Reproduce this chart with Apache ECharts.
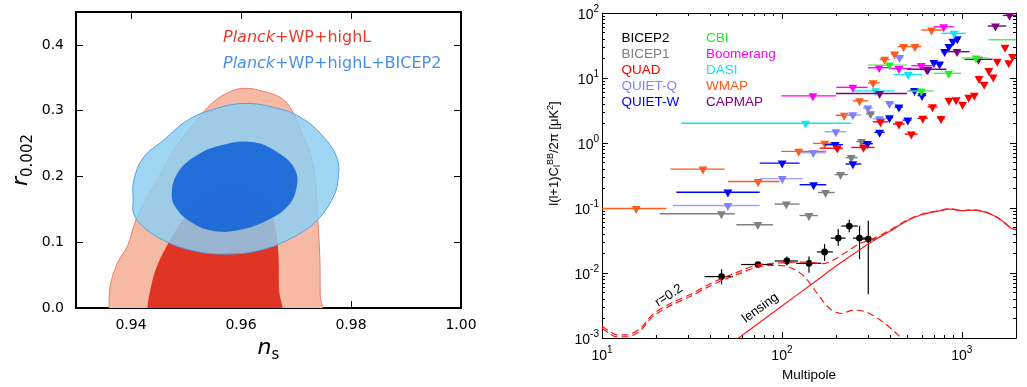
<!DOCTYPE html>
<html><head><meta charset="utf-8">
<script src="https://cdn.jsdelivr.net/npm/echarts@6/dist/echarts.min.js"></script>
<style>html,body{margin:0;padding:0;background:#fff}#c{width:1027px;height:387px}</style>
</head><body><div id="c"></div>
<script>
// ---------- Left panel: contours in (n_s, r_0.002) ----------
const redOuter = [[0.9359,-0.02],[0.9360,0.0],[0.9362,0.032],[0.9375,0.068],[0.9393,0.093],[0.9411,0.138],[0.9441,0.184],[0.9477,0.239],[0.9514,0.280],[0.9550,0.313],[0.9581,0.329],[0.9608,0.334],[0.9641,0.329],[0.9675,0.318],[0.9696,0.295],[0.9711,0.265],[0.9726,0.234],[0.9735,0.194],[0.9739,0.143],[0.9743,0.083],[0.9744,0.02],[0.9744,-0.02]];
const redInner = [[0.9430,-0.02],[0.9430,0.0],[0.9435,0.027],[0.9447,0.063],[0.9471,0.103],[0.9502,0.143],[0.9538,0.174],[0.9575,0.185],[0.9611,0.181],[0.9641,0.164],[0.9659,0.133],[0.9667,0.093],[0.9669,0.03],[0.9669,-0.02]];
const blueOuter = [[0.9404,0.164],[0.9405,0.194],[0.9423,0.229],[0.9459,0.255],[0.9502,0.285],[0.9550,0.302],[0.9605,0.311],[0.9659,0.305],[0.9708,0.290],[0.9750,0.260],[0.9774,0.229],[0.9777,0.199],[0.9768,0.169],[0.9738,0.133],[0.9696,0.108],[0.9635,0.088],[0.9575,0.082],[0.9514,0.087],[0.9459,0.103],[0.9423,0.123],[0.9405,0.143]];
const blueInner = [[0.9474,0.174],[0.9484,0.204],[0.9514,0.229],[0.9562,0.247],[0.9623,0.252],[0.9671,0.234],[0.9699,0.209],[0.9700,0.179],[0.9683,0.153],[0.9647,0.133],[0.9599,0.119],[0.9550,0.117],[0.9508,0.131],[0.9481,0.153]];
const nsTicks = [0.94, 0.96, 0.98, 1.00];
const rTicks = [0.0, 0.1, 0.2, 0.3, 0.4];

// ---------- Right panel: BB bandpowers ----------
// rows: [ell, value, ellLow, ellHigh]  (95% upper limits)
const wmap = [[15.5,0.098,10,22.8],[36.4,0.397,24,48],[73.8,0.255,50.1,97],[124,0.743,99.3,176],[173,0.986,149,201],[222,2.67,199,259],[270,4.45,248,301],[321,8.41,301,349],[372,19.3,349,396],[423,23.4,405,441],[474,30.5,441,512],[549,30.5,512,595],[679,54.7,595,784]];
const bicep1 = [[46.1,0.0815,20.9,54.6],[73.5,0.0553,55.8,89.1],[105.7,0.115,90.9,125.4],[141.3,0.0767,125.4,158.5],[174.8,0.173,158.5,196.3],[211.8,0.327,196,232.6],[243,0.595,226,264],[277,1.05,259,294],[311,2.81,294,327]];
const quad = [[203,0.832,162,218],[284,0.855,243,327],[353,2.12,320,388],[447,1.96,414,481],[524,1.37,481,567],[607,2.40,567,645],[687,3.6,645,732],[766,2.38,732,802],[847,4.53,818,877],[929,4.62,897,962],[1009,3.94,975,1045],[1092,5.04,1055,1131],[1173,5.41,1133,1215],[1246,9.79,1204,1290],[1331,7.98,1286,1378],[1413,13.0,1365,1463],[1494,10.3,1443,1547],[1574,18.0,1520,1630],[1739,29.7,1680,1800],[1822,17.1,1760,1887],[1913,21.4,1848,1980]];
const quietQ = [[50.1,0.109,24.8,75.2],[100.5,0.283,75.2,130.8],[149.4,0.71,128.2,176.4],[199.5,1.49,172.7,227.8],[248,2.70,222.8,276],[300.6,3.44,282,320],[349,2.36,320,380],[396,4.04,380,423],[451,20.6,423,474]];
const quietW = [[50.1,0.175,25.9,75.2],[100.3,0.49,75.2,125.4],[150,0.228,125.4,176.4],[197.6,0.942,172.7,218.3],[248,0.476,226,276],[299.4,0.976,282,320],[349,1.46,327,372],[396,2.44,380,414],[447,3.57,423,470],[501,2.25,470,524],[546,6.41,512,582],[601,5.37,567,634],[647,13.5,605,676],[699,17.2,676,724],[752,16.3,724,781],[802,25.4,771,833],[847,30.5,817,877],[892,36.7,859,922],[943,40.2,910,977]];
const cbi = [[396,15.8,300.6,496],[595,6.3,496,697],[846,11.8,697,993],[1199,20.3,996,1407],[2400,38.8,1407,4000]];
const boomerang = [[148.6,5.31,99.3,200.6],[248,7.18,200.6,299.4],[347,14.4,300.6,396],[447,14.0,396,524],[595,15.5,524,697],[793,61.4,697,899]];
const dasi = [[135.4,2.01,27.6,243],[332,6.34,245,423],[504,11.3,416,601],[907,48.7,771,1049]];
const capmap = [[349,5.77,199.5,496],[637,13.6,496,822],[940,25.4,819,1104],[1238,19.4,1035,1483],[1538,63.0,1394,1764],[1841,91.9,1690,2005]];
// BICEP2 detections: [ell, value, ellLow, ellHigh, valueLow, valueHigh]
const bicep2 = [[46.2,0.0088,37.2,53.4,0.0067,0.0114],[73.6,0.0135,59.4,89,0.0126,0.0145],[106.6,0.0153,91,122.7,0.0131,0.0179],[141.4,0.0141,120,165.5,0.0101,0.0179],[172.6,0.0211,157,192,0.0153,0.0278],[205.6,0.0344,187,226,0.0262,0.0475],[236.8,0.0528,214,264,0.0422,0.066],[270,0.0344,248,300,0.0163,0.0534],[302,0.0333,270,334,0.0047,0.0638]];
// model curves
const tensorL = [10,11,12,13.7,16.2,19.2,24.8,30.7,38,46,58.2,72,89,106,131,155,184,214,248,294,364,414,460,520];
const tensorV = [0.00141,0.00118,0.00104,0.00104,0.00128,0.00215,0.0033,0.0043,0.0059,0.0076,0.0098,0.0122,0.0131,0.0127,0.0092,0.0051,0.00284,0.00238,0.00268,0.00252,0.00177,0.00132,0.001,0.0007];
const totalL = [10,11,12,13.7,16.2,19.2,24.8,30.7,38,46,58.2,72,89,106,115,137,169,192,228,270,320,396,491,607,751,855,1014,1151,1367,1620,1880,2000];
const totalV = [0.00152,0.00127,0.00112,0.00112,0.00138,0.00232,0.00356,0.00464,0.00637,0.0082,0.0106,0.0132,0.0141,0.0145,0.01475,0.01475,0.0139,0.01566,0.021,0.0282,0.0337,0.0452,0.0643,0.0815,0.0916,0.0972,0.0916,0.0938,0.0862,0.0683,0.049,0.047];
const lensingL = [50,57.4,100,150,200,250,320,396,491,607,751,855,1014,1151,1367,1620,1880,2000];
const lensingV = [0.00075,0.001,0.0031,0.0071,0.0128,0.0196,0.031,0.0435,0.0625,0.080,0.0905,0.096,0.0905,0.093,0.0855,0.0678,0.0487,0.046];
const ellMajor = [10, 100, 1000];
const ellMinor = [20,30,40,50,60,70,80,90,200,300,400,500,600,700,800,900];
const clMajor = [0.001, 0.01, 0.1, 1, 10, 100];
const clMinor = [0.002,0.003,0.004,0.005,0.006,0.007,0.008,0.009,0.02,0.03,0.04,0.05,0.06,0.07,0.08,0.09,0.2,0.3,0.4,0.5,0.6,0.7,0.8,0.9,2,3,4,5,6,7,8,9,20,30,40,50,60,70,80,90];

const zip = (a, b) => a.map((x, i) => [x, b[i]]);
const LF = 'DejaVu Sans';
const RF = 'Liberation Sans';

function contour(name, pts, fill, stroke) {
  return {
    type: 'custom', name, xAxisIndex: 0, yAxisIndex: 0, clip: true, silent: true,
    data: pts, encode: {x: 0, y: 1},
    renderItem(params, api) {
      if (params.dataIndex !== 0) return null;
      const points = pts.map(p => api.coord(p));
      return {type: 'polygon', shape: {points, smooth: 0.4},
        style: {fill, stroke: stroke || null, lineWidth: stroke ? 1 : 0}};
    }
  };
}
function limits(name, rows, color, barColor) {
  return {
    type: 'custom', name, xAxisIndex: 2, yAxisIndex: 2, clip: true, silent: true,
    data: rows, encode: {x: [0, 2, 3], y: 1},
    renderItem(params, api) {
      const v = api.value(1);
      const p = api.coord([api.value(0), v]);
      const a = api.coord([api.value(2), v]);
      const b = api.coord([api.value(3), v]);
      return {type: 'group', children: [
        {type: 'line', shape: {x1: a[0], y1: a[1], x2: b[0], y2: b[1]}, style: {stroke: barColor || color, lineWidth: 1.4}},
        {type: 'polygon', shape: {points: [[p[0]-4.4, p[1]-2.6], [p[0]+4.4, p[1]-2.6], [p[0], p[1]+5.4]]}, style: {fill: color}}
      ]};
    }
  };
}
const supLabel = v => '{b|10}{s|' + Math.round(Math.log10(v)) + '}';
const supRich = {b: {fontFamily: RF, fontSize: 14, lineHeight: 18, verticalAlign: 'bottom', color: '#000'},
                 s: {fontFamily: RF, fontSize: 10, lineHeight: 10, verticalAlign: 'top', color: '#000'}};

function logX(extra) {
  return Object.assign({type: 'log', logBase: 10, gridIndex: 1, min: 10, max: 2000,
    axisLine: {show: true, onZero: false, lineStyle: {color: '#000', width: 1}}, splitLine: {show: false}}, extra);
}
function logY(extra) {
  return Object.assign({type: 'log', logBase: 10, gridIndex: 1, min: 0.001, max: 100,
    axisLine: {show: true, onZero: false, lineStyle: {color: '#000', width: 1}}, splitLine: {show: false}}, extra);
}

const option = {
  animation: false,
  backgroundColor: '#fff',
  grid: [
    {left: 76, top: 12, width: 385, height: 296},
    {left: 602, top: 13, width: 414, height: 325}
  ],
  legend: [
    {left: 213, top: 24, orient: 'vertical', icon: 'none', itemWidth: 0, itemHeight: 18, itemGap: 8, selectedMode: false,
      formatter: n => '{i|Planck}{n|' + n.slice(6) + '}',
      textStyle: {fontFamily: LF, fontSize: 16, lineHeight: 18,
        rich: {i: {fontFamily: LF, fontSize: 16, fontStyle: 'italic'}, n: {fontFamily: LF, fontSize: 16}}},
      data: [{name: 'Planck+WP+highL', textStyle: {color: '#e53b2b'}},
             {name: 'Planck+WP+highL+BICEP2', textStyle: {color: '#4a8fe6'}}]},
    {left: 611.5, top: 25.5, orient: 'vertical', icon: 'none', itemWidth: 0, itemHeight: 16, itemGap: 0, selectedMode: false,
      textStyle: {fontFamily: RF, fontSize: 13.5, lineHeight: 16},
      data: [{name: 'BICEP2', textStyle: {color: '#000'}}, {name: 'BICEP1', textStyle: {color: '#808080'}},
             {name: 'QUAD', textStyle: {color: '#ff0000'}}, {name: 'QUIET-Q', textStyle: {color: '#8080ff'}},
             {name: 'QUIET-W', textStyle: {color: '#0000e6'}}]},
    {left: 696, top: 25.5, orient: 'vertical', icon: 'none', itemWidth: 0, itemHeight: 16, itemGap: 0, selectedMode: false,
      textStyle: {fontFamily: RF, fontSize: 13.5, lineHeight: 16},
      data: [{name: 'CBI', textStyle: {color: '#22ee22'}}, {name: 'Boomerang', textStyle: {color: '#ff00ff'}},
             {name: 'DASI', textStyle: {color: '#11e5ee'}}, {name: 'WMAP', textStyle: {color: '#ff5a1a'}},
             {name: 'CAPMAP', textStyle: {color: '#800080'}}]}
  ],
  xAxis: [
    {type: 'value', gridIndex: 0, min: 0.93, max: 1.0, position: 'bottom',
      name: '{i|n}{s|s}', nameLocation: 'middle', nameGap: 26,
      nameTextStyle: {rich: {i: {fontFamily: LF, fontSize: 22, fontStyle: 'italic', lineHeight: 26, verticalAlign: 'top', color: '#000'},
                             s: {fontFamily: LF, fontSize: 15, lineHeight: 15, verticalAlign: 'bottom', color: '#000'}}},
      axisLine: {show: true, onZero: false, lineStyle: {color: '#000', width: 2}},
      axisTick: {inside: true, length: 7, customValues: nsTicks, lineStyle: {color: '#000', width: 1}},
      axisLabel: {customValues: nsTicks, margin: 10, formatter: v => v.toFixed(2), fontFamily: LF, fontSize: 14, color: '#000'},
      splitLine: {show: false}},
    {type: 'value', gridIndex: 0, min: 0.93, max: 1.0, position: 'top',
      axisLine: {show: true, onZero: false, lineStyle: {color: '#000', width: 2}},
      axisTick: {inside: true, length: 7, customValues: nsTicks, lineStyle: {color: '#000', width: 1}},
      axisLabel: {show: false}, splitLine: {show: false}},
    logX({position: 'bottom', name: 'Multipole', nameLocation: 'middle', nameGap: 27,
      nameTextStyle: {fontFamily: RF, fontSize: 13.5, color: '#000'},
      axisTick: {inside: true, length: 6, customValues: ellMajor, lineStyle: {color: '#000'}},
      axisLabel: {customValues: ellMajor, margin: 7, formatter: supLabel, rich: supRich}}),
    logX({position: 'top',
      axisTick: {inside: true, length: 6, customValues: ellMajor, lineStyle: {color: '#000'}},
      axisLabel: {show: false}}),
    logX({position: 'bottom', axisLine: {show: false, onZero: false},
      axisTick: {inside: true, length: 3, customValues: ellMinor, lineStyle: {color: '#000'}},
      axisLabel: {show: false}}),
    logX({position: 'top', axisLine: {show: false, onZero: false},
      axisTick: {inside: true, length: 3, customValues: ellMinor, lineStyle: {color: '#000'}},
      axisLabel: {show: false}})
  ],
  yAxis: [
    {type: 'value', gridIndex: 0, min: 0, max: 0.45, position: 'left',
      name: '{i|r}{s|0.002}', nameLocation: 'middle', nameGap: 40,
      nameTextStyle: {rich: {i: {fontFamily: LF, fontSize: 22, fontStyle: 'italic', lineHeight: 26, verticalAlign: 'top', color: '#000'},
                             s: {fontFamily: LF, fontSize: 15, lineHeight: 15, verticalAlign: 'bottom', color: '#000'}}},
      axisLine: {show: true, onZero: false, lineStyle: {color: '#000', width: 2}},
      axisTick: {inside: true, length: 7, customValues: rTicks, lineStyle: {color: '#000', width: 1}},
      axisLabel: {customValues: rTicks, margin: 12, formatter: v => v.toFixed(1), fontFamily: LF, fontSize: 14, color: '#000'},
      splitLine: {show: false}},
    {type: 'value', gridIndex: 0, min: 0, max: 0.45, position: 'right',
      axisLine: {show: true, onZero: false, lineStyle: {color: '#000', width: 2}},
      axisTick: {inside: true, length: 7, customValues: rTicks, lineStyle: {color: '#000', width: 1}},
      axisLabel: {show: false}, splitLine: {show: false}},
    logY({position: 'left',
      name: '{t|l(l+1)C}{sub|l}{sup|BB}{t|/2π [μK}{sup|2}{t|]}', nameLocation: 'middle', nameGap: 40,
      nameTextStyle: {padding: [0, 0, 0, 44],
                      rich: {t: {fontFamily: RF, fontSize: 13, lineHeight: 16, verticalAlign: 'middle', color: '#000'},
                             sub: {fontFamily: RF, fontSize: 9, lineHeight: 8, verticalAlign: 'bottom', color: '#000'},
                             sup: {fontFamily: RF, fontSize: 9, lineHeight: 8, verticalAlign: 'top', color: '#000'}}},
      axisTick: {inside: true, length: 6, customValues: clMajor, lineStyle: {color: '#000'}},
      axisLabel: {customValues: clMajor, margin: 3, formatter: supLabel, rich: supRich}}),
    logY({position: 'right',
      axisTick: {inside: true, length: 6, customValues: clMajor, lineStyle: {color: '#000'}},
      axisLabel: {show: false}}),
    logY({position: 'left', axisLine: {show: false, onZero: false},
      axisTick: {inside: true, length: 3, customValues: clMinor, lineStyle: {color: '#000'}},
      axisLabel: {show: false}}),
    logY({position: 'right', axisLine: {show: false, onZero: false},
      axisTick: {inside: true, length: 3, customValues: clMinor, lineStyle: {color: '#000'}},
      axisLabel: {show: false}})
  ],
  series: [
    contour('Planck+WP+highL', redOuter, '#f6b9a4', '#e57e70'),
    contour('Planck+WP+highL', redInner, '#e03524', null),
    contour('Planck+WP+highL+BICEP2', blueOuter, 'rgba(141,206,242,0.84)', '#5a9de6'),
    contour('Planck+WP+highL+BICEP2', blueInner, 'rgba(20,100,215,0.9)', null),

    {type: 'line', name: 'lensing', xAxisIndex: 2, yAxisIndex: 2, data: zip(lensingL, lensingV), showSymbol: false, smooth: 0.3,
      clip: true, silent: true, lineStyle: {color: '#ff1a1a', width: 1.2}},
    {type: 'line', name: 'r=0.2', xAxisIndex: 2, yAxisIndex: 2, data: zip(tensorL, tensorV), showSymbol: false, smooth: 0.3,
      clip: true, silent: true, lineStyle: {color: '#ff1a1a', width: 1.2, type: [7, 4]}},
    {type: 'line', name: 'r=0.2 + lensing', xAxisIndex: 2, yAxisIndex: 2, data: zip(totalL, totalV), showSymbol: false, smooth: 0.3,
      clip: true, silent: true, lineStyle: {color: '#ff1a1a', width: 1.2, type: [7, 4]}},

    limits('WMAP', wmap, '#ff5a1a'),
    limits('BICEP1', bicep1, '#808080'),
    limits('QUIET-Q', quietQ, '#8080ff', '#a0a0ff'),
    limits('QUIET-W', quietW, '#0000ff'),
    limits('DASI', dasi, '#11e5ee'),
    limits('Boomerang', boomerang, '#ff00ff'),
    limits('CAPMAP', capmap, '#800080'),
    limits('CBI', cbi, '#22ee22', '#55ee55'),
    limits('QUAD', quad, '#ff0000'),

    {type: 'custom', name: 'BICEP2', xAxisIndex: 2, yAxisIndex: 2, clip: true, silent: true,
      data: bicep2, encode: {x: [0, 2, 3], y: [1, 4, 5]},
      renderItem(params, api) {
        const l = api.value(0), v = api.value(1);
        const p = api.coord([l, v]);
        const a = api.coord([api.value(2), v]), b = api.coord([api.value(3), v]);
        const c = api.coord([l, api.value(4)]), d = api.coord([l, api.value(5)]);
        return {type: 'group', children: [
          {type: 'line', shape: {x1: a[0], y1: a[1], x2: b[0], y2: b[1]}, style: {stroke: '#000', lineWidth: 1.2}},
          {type: 'line', shape: {x1: c[0], y1: c[1], x2: d[0], y2: d[1]}, style: {stroke: '#000', lineWidth: 1.2}},
          {type: 'circle', shape: {cx: p[0], cy: p[1], r: 3.4}, style: {fill: '#000'}}
        ]};
      }},

    {type: 'custom', name: 'annotations', xAxisIndex: 2, yAxisIndex: 2, silent: true,
      data: [[23.5, 0.0045, 33], [75.9, 0.0029, 36]],
      renderItem(params, api) {
        const p = api.coord([api.value(0), api.value(1)]);
        const txt = params.dataIndex === 0 ? 'r=0.2' : 'lensing';
        return {type: 'text', x: p[0], y: p[1], rotation: api.value(2) * Math.PI / 180,
          style: {text: txt, fontFamily: RF, fontSize: 13, fill: '#000', align: 'center', verticalAlign: 'middle'}};
      }}
  ]
};
const chart = echarts.init(document.getElementById('c'));
chart.setOption(option);
</script></body></html>
